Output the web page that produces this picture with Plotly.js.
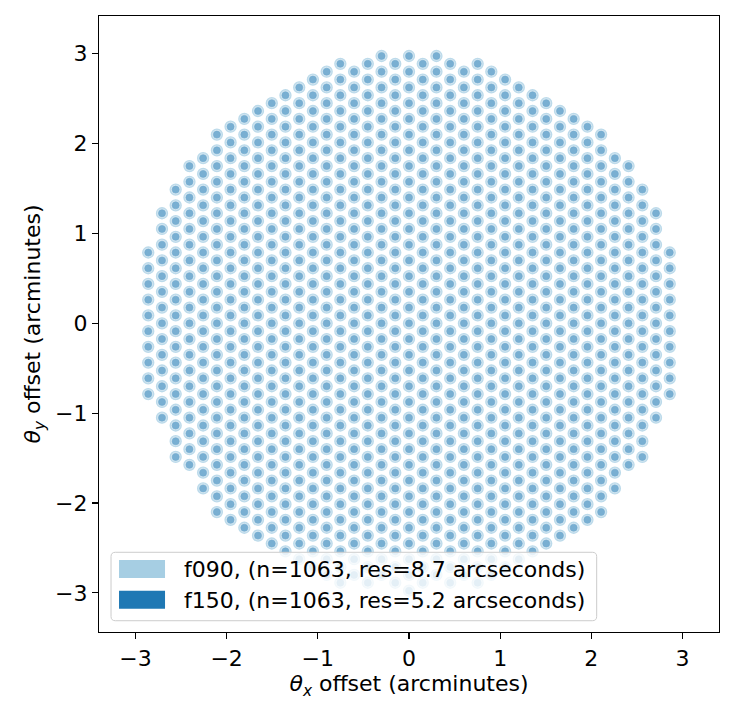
<!DOCTYPE html>
<html>
<head>
<meta charset="utf-8">
<script src="https://cdn.plot.ly/plotly-3.0.1.min.js"></script>
<style>html,body{margin:0;padding:0;background:#fff;}#chart{width:735px;height:716px;}</style>
</head>
<body>
<div id="chart"></div>
<script>
// Detector columns of the hexagonal array (arcminutes)
const colX = [-2.860,-2.709,-2.559,-2.408,-2.258,-2.107,-1.957,-1.806,-1.656,-1.505,-1.355,-1.204,-1.054,-0.903,-0.753,-0.602,-0.452,-0.301,-0.151,0,0.151,0.301,0.452,0.602,0.753,0.903,1.054,1.204,1.355,1.505,1.656,1.806,1.957,2.107,2.258,2.408,2.559,2.709,2.860];
const colTop = [0.788,1.225,1.488,1.750,1.838,2.100,2.188,2.275,2.363,2.450,2.538,2.625,2.713,2.800,2.888,2.800,2.888,2.975,2.888,2.975,2.888,2.975,2.888,2.800,2.888,2.800,2.713,2.625,2.538,2.450,2.363,2.275,2.188,2.100,1.838,1.750,1.488,1.225,0.788];
const colCount = [10,14,18,20,22,25,26,27,28,29,30,31,32,33,34,33,34,34,34,35,34,34,34,33,34,33,32,31,30,29,28,27,26,25,22,20,18,14,10];
const rowSpacing = 0.175;

const bandNames = ["f090", "f150"];
const bandCounts = [1063, 1063];
const bandRes = [8.7, 5.2];
const bandColors = ["#a6cee3", "#1f78b4"];

const xTicks = [-3, -2, -1, 0, 1, 2, 3];
const yTicks = [-3, -2, -1, 0, 1, 2, 3];

// build detector positions
const detX = [], detY = [];
for (let c = 0; c < colX.length; c++) {
  for (let i = 0; i < colCount[c]; i++) {
    detX.push(colX[c]);
    detY.push(+(colTop[c] - i * rowSpacing).toFixed(4));
  }
}

const traces = [
  {type: 'scatter', mode: 'markers', x: detX, y: detY, showlegend: false, hoverinfo: 'skip',
   marker: {size: 11, color: '#d3e6f1', line: {color: '#bcdaea', width: 1.3}}},
  {type: 'scatter', mode: 'markers', x: detX, y: detY, showlegend: false, hoverinfo: 'skip',
   marker: {size: 7, color: '#79afd2', line: {color: '#70a9cf', width: 0.6}}}
];

const font = {family: 'DejaVu Sans', size: 22, color: '#000'};

// legend box (paper coords)
const L = {x0: 0.0194, x1: 0.8027, y0: 0.0183, y1: 0.1294};
const rx = 0.007, ry = 0.007;
const legPath = `M ${L.x0+rx},${L.y0} L ${L.x1-rx},${L.y0} Q ${L.x1},${L.y0} ${L.x1},${L.y0+ry} L ${L.x1},${L.y1-ry} Q ${L.x1},${L.y1} ${L.x1-rx},${L.y1} L ${L.x0+rx},${L.y1} Q ${L.x0},${L.y1} ${L.x0},${L.y1-ry} L ${L.x0},${L.y0+ry} Q ${L.x0},${L.y0} ${L.x0+rx},${L.y0} Z`;
const shapes = [
  {type: 'path', xref: 'paper', yref: 'paper', path: legPath, fillcolor: 'rgba(255,255,255,0.8)', line: {color: '#cccccc', width: 1}},
  {type: 'rect', xref: 'paper', yref: 'paper', x0: 0.0323, x1: 0.1065, y0: 0.0877, y1: 0.1169, fillcolor: bandColors[0], line: {width: 0}},
  {type: 'rect', xref: 'paper', yref: 'paper', x0: 0.0323, x1: 0.1065, y0: 0.0378, y1: 0.0670, fillcolor: bandColors[1], line: {width: 0}}
];
const annotations = [0, 1].map(i => ({
  xref: 'paper', yref: 'paper', x: 0.1334, y: i === 0 ? 0.1015 : 0.0519,
  xanchor: 'left', yanchor: 'middle', showarrow: false,
  text: `${bandNames[i]}, (n=${bandCounts[i]}, res=${bandRes[i]} arcseconds)`,
  font: font
}));

const axisCommon = {
  showgrid: false, zeroline: false, showline: true, mirror: true,
  linecolor: '#000', linewidth: 1.1, ticks: 'outside', ticklen: 6, tickwidth: 1.1, tickcolor: '#000',
  tickfont: font
};

const layout = {
  width: 735, height: 716,
  margin: {l: 99, r: 16, t: 16, b: 84},
  paper_bgcolor: '#fff', plot_bgcolor: '#fff',
  showlegend: false,
  font: font,
  xaxis: Object.assign({}, axisCommon, {range: [-3.4, 3.4], tickvals: xTicks,
    title: {text: '<i>θ</i><sub><i>x</i></sub> offset (arcminutes)', font: font, standoff: 6}}),
  yaxis: Object.assign({}, axisCommon, {range: [-3.435, 3.42], tickvals: yTicks,
    title: {text: '<i>θ</i><sub><i>y</i></sub> offset (arcminutes)', font: font, standoff: 8}}),
  shapes: shapes,
  annotations: annotations
};

Plotly.newPlot('chart', traces, layout, {staticPlot: true, displayModeBar: false});
</script>
</body>
</html>
